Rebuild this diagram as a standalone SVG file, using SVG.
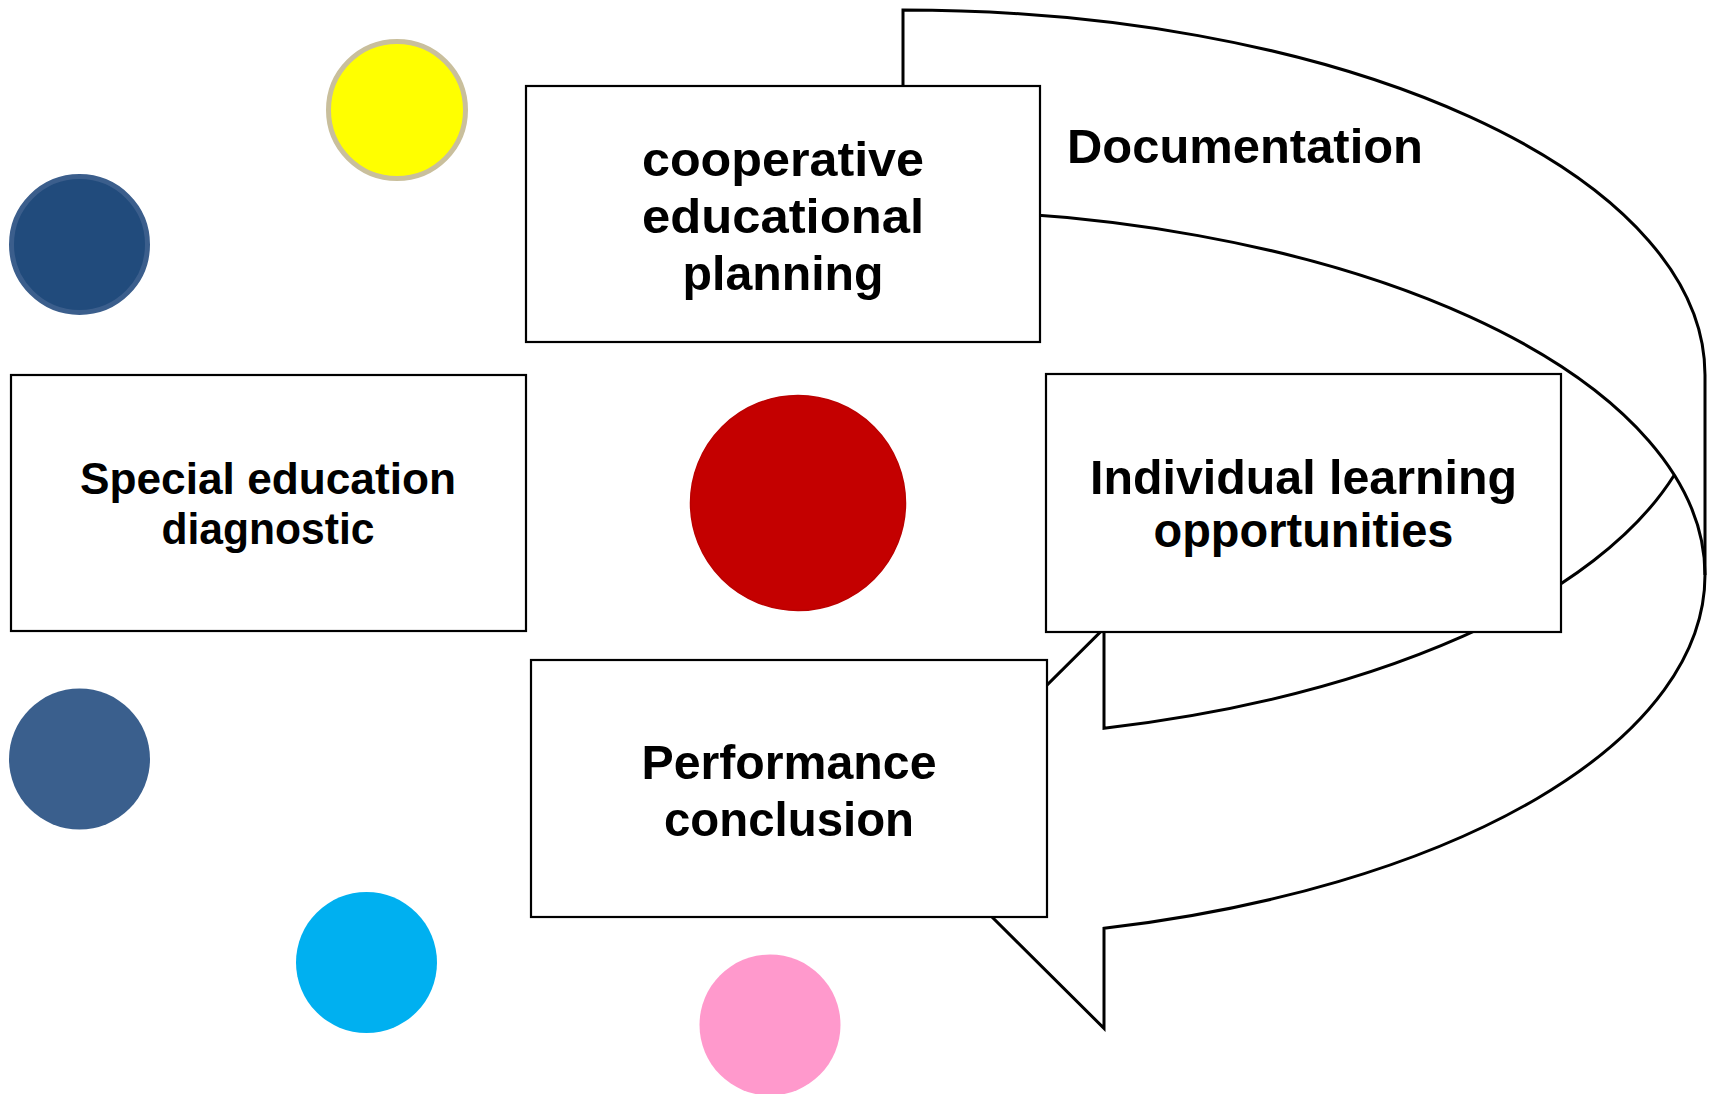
<svg xmlns="http://www.w3.org/2000/svg" width="1714" height="1094" viewBox="0 0 1714 1094">
  <style>
    .box { fill: #ffffff; stroke: #000000; stroke-width: 2.2; }
    .lbl { font-family: "Liberation Sans", Arial, sans-serif; font-weight: bold; fill: #000000; font-size: 49px; text-anchor: middle; }
    .arrow { fill: none; stroke: #000000; stroke-width: 3; stroke-linejoin: miter; }
    .dot { stroke: none; }
  </style>
  <rect x="0" y="0" width="1714" height="1094" fill="#ffffff"/>

  <g id="connectors">
    <g id="documentation-arrow">
      <path class="arrow" d="M 903 210 L 903 10 A 802 365 0 0 1 1705 375 L 1705 575 A 802 365 0 0 1 1104 928.35 L 1104 1028.35 L 903 828.35 L 1104 628.35 L 1104 728.35 A 802 365 0 0 0 1674.3 475"/>
      <path class="arrow" d="M 903 210 A 802 365 0 0 1 1705 575"/>
      <text x="1067" y="163" class="lbl" style="text-anchor:start" textLength="356" lengthAdjust="spacingAndGlyphs">Documentation</text>
    </g>
  </g>

  <g id="circle-yellow"><circle cx="397" cy="110" r="68.5" fill="#FFFF00" stroke="#C9BF9C" stroke-width="5"/></g>
  <g id="circle-darkblue"><circle cx="79.5" cy="244.5" r="68" fill="#214B7C" stroke="#3B5E8C" stroke-width="5"/></g>
  <g id="circle-blue"><circle class="dot" cx="79.5" cy="759" r="70.5" fill="#3A5F8D"/></g>
  <g id="circle-cyan"><circle class="dot" cx="366.5" cy="962.5" r="70.5" fill="#00B0F0"/></g>
  <g id="circle-pink"><circle class="dot" cx="770" cy="1025" r="70.5" fill="#FF99CC"/></g>
  <g id="circle-red"><circle cx="798" cy="503" r="107.5" fill="#C40000" stroke="#BB0000" stroke-width="1.5"/></g>

  <g id="node-cooperative">
    <rect class="box" x="526" y="86" width="514" height="256"/>
    <text class="lbl" x="783" y="176" textLength="282" lengthAdjust="spacingAndGlyphs">cooperative</text>
    <text class="lbl" x="783" y="233" textLength="282" lengthAdjust="spacingAndGlyphs">educational</text>
    <text class="lbl" x="783" y="290" textLength="201" lengthAdjust="spacingAndGlyphs">planning</text>
  </g>

  <g id="node-special">
    <rect class="box" x="11" y="375" width="515" height="256"/>
    <text class="lbl" x="268" y="494" style="font-size:44px" textLength="376" lengthAdjust="spacingAndGlyphs">Special education</text>
    <text class="lbl" x="268" y="544" style="font-size:44px" textLength="213" lengthAdjust="spacingAndGlyphs">diagnostic</text>
  </g>

  <g id="node-individual">
    <rect class="box" x="1046" y="374" width="515" height="258"/>
    <text class="lbl" x="1303.5" y="494" textLength="427" lengthAdjust="spacingAndGlyphs">Individual learning</text>
    <text class="lbl" x="1303.5" y="547" textLength="300" lengthAdjust="spacingAndGlyphs">opportunities</text>
  </g>

  <g id="node-performance">
    <rect class="box" x="531" y="660" width="516" height="257"/>
    <text class="lbl" x="789" y="779" textLength="295" lengthAdjust="spacingAndGlyphs">Performance</text>
    <text class="lbl" x="789" y="836" textLength="250" lengthAdjust="spacingAndGlyphs">conclusion</text>
  </g>
</svg>
